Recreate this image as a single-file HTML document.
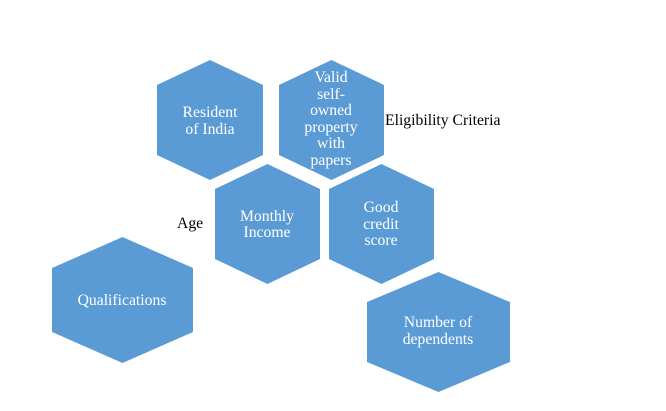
<!DOCTYPE html>
<html><head><style>body{margin:0;background:#fff}svg{display:block}</style></head><body>
<svg width="666" height="411" xmlns="http://www.w3.org/2000/svg" font-family="Liberation Serif, serif" font-size="15.7">
<rect width="666" height="411" fill="#fff"/>
<g fill="#5B9BD5">
<polygon points="210,60 263,85 263,155 210,180 157,155 157,85"/>
<polygon points="331.5,60 384,85 384,155 331.5,180 279,155 279,85"/>
<polygon points="267.5,164 320,189 320,259 267.5,284 215,259 215,189"/>
<polygon points="381.5,164 434,189 434,259 381.5,284 329,259 329,189"/>
<polygon points="122.5,237 193,268 193,332 122.5,363 52,332 52,268"/>
<polygon points="438.5,272 510,302 510,362 438.5,392 367,362 367,302"/>
</g>
<g fill="#fff" text-anchor="middle">
<text x="210" y="117">Resident</text><text x="210" y="134">of India</text>
<text x="331" y="82">Valid</text><text x="331" y="99">self-</text><text x="331" y="115">owned</text><text x="331" y="132">property</text><text x="331" y="148">with</text><text x="331" y="165">papers</text>
<text x="267" y="221">Monthly</text><text x="267" y="237">Income</text>
<text x="381" y="212">Good</text><text x="381" y="229">credit</text><text x="381" y="245">score</text>
<text x="122" y="305">Qualifications</text>
<text x="438" y="327">Number of</text><text x="438" y="344">dependents</text>
</g>
<g fill="#000">
<text x="385" y="125">Eligibility Criteria</text>
<text x="177" y="228">Age</text>
</g>
</svg>
</body></html>
